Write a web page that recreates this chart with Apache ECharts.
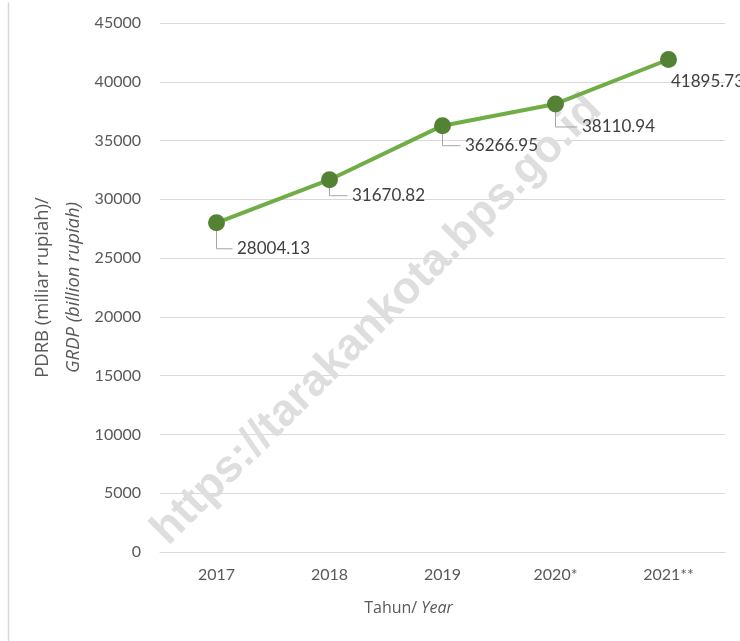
<!DOCTYPE html>
<html>
<head>
    <meta charset="utf-8">
    <title>PDRB Tarakan</title>
    <script src="https://cdn.jsdelivr.net/npm/echarts@6/dist/echarts.min.js"></script>
    <style>
        html, body { margin: 0; padding: 0; background: #fff; }
        #chart1 { width: 740px; height: 641px; }
    </style>
</head>
<body>
<div id="chart1"></div>
<script>
    // data
    var years = ['2017', '2018', '2019', '2020*', '2021**'];
    var pdrb = [28004.13, 31670.82, 36266.95, 38110.94, 41895.73];
    var yTicks = [0, 5000, 10000, 15000, 20000, 25000, 30000, 35000, 40000, 45000];

    // where each label was dragged to (px, relative to its default spot)
    var labelShift = [[8, 26], [10, 16], [10, 20], [14, 23], [-10, 22]];
    var hasLeader = [true, true, true, true, false];

    var font = 'Lato, "Open Sans", sans-serif';
    var wide = '"Open Sans", Lato, sans-serif';
    var myChart1 = echarts.init(document.getElementById('chart1'));

    myChart1.setOption({
        animation: false,
        grid: { left: 160, right: 15, top: 23, bottom: 89 },
        xAxis: {
            type: 'category',
            data: years,
            boundaryGap: true,
            axisLine: { show: true, lineStyle: { color: '#d9d9d9', width: 1 } },
            axisTick: { show: false },
            axisLabel: { color: '#595959', fontSize: 16, fontFamily: font, margin: 15 },
            name: 'Tahun/ {i|Year}',
            nameLocation: 'middle',
            nameGap: 48,
            nameTextStyle: {
                color: '#595959', fontSize: 16, fontFamily: wide,
                padding: [0, 68, 0, 0],
                rich: { i: { fontStyle: 'italic', color: '#595959', fontSize: 16, fontFamily: wide } }
            }
        },
        yAxis: {
            type: 'value',
            min: yTicks[0],
            max: yTicks[yTicks.length - 1],
            interval: yTicks[1] - yTicks[0],
            axisLine: { show: false },
            axisTick: { show: false },
            splitLine: { lineStyle: { color: '#d9d9d9', width: 1 } },
            axisLabel: { color: '#595959', fontSize: 16, fontFamily: font, margin: 19,
                         formatter: function (v) { return String(v); } },
            name: '{a|PDRB (miliar rupiah)/}\n{b|GRDP (billion rupiah)}',
            nameLocation: 'middle',
            nameGap: 71,
            nameTextStyle: {
                rich: {
                    a: { color: '#595959', fontSize: 18.5, fontFamily: wide, lineHeight: 31 },
                    b: { color: '#595959', fontSize: 18.5, fontFamily: wide, fontStyle: 'italic', lineHeight: 31 }
                }
            }
        },
        graphic: [
            { type: 'line', left: 6, top: 0, z: 0,
              shape: { x1: 0, y1: 0, x2: 0, y2: 641 },
              style: { stroke: '#d9d9d9', lineWidth: 1.5 } },
            { type: 'text', x: 377, y: 320, rotation: Math.PI / 4, z: 1,
              style: { text: 'https://tarakankota.bps.go.id', fill: '#dedede',
                       font: 'bold 45px Arial, "Liberation Sans", sans-serif',
                       align: 'center', verticalAlign: 'middle' } }
        ],
        series: [{
            // elbow leader lines from each point to its label
            type: 'custom',
            z: 3,
            silent: true,
            data: pdrb.map(function (v, i) { return [i, v]; }),
            renderItem: function (params, api) {
                var i = params.dataIndex;
                if (!hasLeader[i]) return null;
                var p = api.coord([api.value(0), api.value(1)]);
                var dy = labelShift[i][1], dx = labelShift[i][0] + 8;
                return {
                    type: 'polyline',
                    shape: { points: [[p[0], p[1]], [p[0], p[1] + dy], [p[0] + dx, p[1] + dy]] },
                    style: { stroke: '#a6a6a6', lineWidth: 1, fill: null }
                };
            }
        }, {
            name: 'PDRB',
            type: 'line',
            z: 5,
            data: pdrb,
            symbol: 'circle',
            symbolSize: 17,
            itemStyle: { color: '#548235' },
            lineStyle: { color: '#70ad47', width: 4 },
            label: {
                show: true,
                position: 'right',
                distance: 4,
                color: '#404040',
                fontSize: 17,
                fontFamily: font
            },
            labelLayout: function (p) {
                return { dx: labelShift[p.dataIndex][0], dy: labelShift[p.dataIndex][1] };
            }
        }]
    });
</script>
</body>
</html>
